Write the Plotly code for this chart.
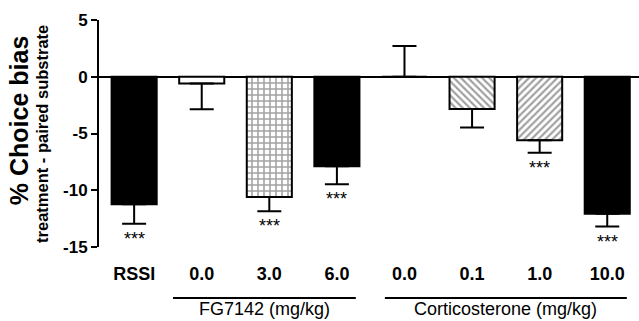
import plotly.graph_objects as go

# ---- data ----
categories = ["RSSI", "0.0", "3.0", "6.0", "0.0", "0.1", "1.0", "10.0"]
means = [-11.23, -0.59, -10.6, -7.88, 0.0, -2.85, -5.59, -12.06]
err_up = [0, 0, 0, 0, 2.7, 0, 0, 0]
err_down = [1.72, 2.27, 1.26, 1.59, 0, 1.62, 1.11, 1.14]
significance = ["***", "", "***", "***", "", "", "***", "***"]
group_names = ["FG7142 (mg/kg)", "Corticosterone (mg/kg)"]
group_first = [1, 4]
group_last = [3, 7]

# ---- style ----
fills = ["black", "white", "white", "black", "white", "white", "white", "black"]
patterns = ["", "", "+", "", "", "\\", "/", ""]
FONT = "Liberation Sans, Arial, sans-serif"

x = list(range(len(categories)))

fig = go.Figure()
fig.add_trace(go.Bar(
    x=x, y=means, width=0.667,
    marker=dict(color=fills, line=dict(color="black", width=2),
                pattern=dict(shape=patterns, fgcolor="black", bgcolor="white",
                             size=[6, 6, 6, 6, 6, 5, 5, 6], solidity=0.45)),
    error_y=dict(type="data", symmetric=False, array=err_up, arrayminus=err_down,
                 color="black", thickness=2, width=12),
    showlegend=False,
))

annotations = []
for i, s in enumerate(significance):
    if s:
        annotations.append(dict(x=i, y=means[i] - err_down[i], xref="x", yref="y",
                                text=s, showarrow=False, yanchor="top", yshift=-3,
                                font=dict(family=FONT, size=18, color="black")))

shapes = []
line_y = -0.2247
left_pad = [0.425, 0.29]
right_pad = [0.28, 0.29]
for g, name in enumerate(group_names):
    x0 = group_first[g] - left_pad[g]
    x1 = group_last[g] + right_pad[g]
    shapes.append(dict(type="line", xref="x", yref="paper", x0=x0, x1=x1,
                       y0=line_y, y1=line_y, line=dict(color="black", width=2)))
    annotations.append(dict(x=(x0 + x1) / 2, y=-0.275, xref="x", yref="paper",
                            text=name, showarrow=False, yanchor="middle",
                            font=dict(family=FONT, size=18, color="black")))

annotations.append(dict(x=-0.148, y=0.559, xref="paper", yref="paper",
                        text="<b>% Choice bias</b>", textangle=-90, showarrow=False,
                        xanchor="center", yanchor="middle",
                        font=dict(family=FONT, size=25, color="black")))
annotations.append(dict(x=-0.1056, y=0.498, xref="paper", yref="paper",
                        text="<b>treatment - paired substrate</b>", textangle=-90,
                        showarrow=False, xanchor="center", yanchor="middle",
                        font=dict(family=FONT, size=16.5, color="black")))

fig.update_layout(
    width=639, height=321,
    margin=dict(l=99, r=0, t=20, b=74),
    paper_bgcolor="white", plot_bgcolor="white",
    xaxis=dict(range=[-0.52, 7.47], tickvals=x, ticktext=["<b>%s</b>" % c for c in categories],
               showline=False, showgrid=False, zeroline=False, ticks="",
               ticklabelstandoff=14,
               tickfont=dict(family=FONT, size=18, color="black")),
    yaxis=dict(range=[-15, 5], tickvals=[-15, -10, -5, 0, 5],
               ticktext=["<b>-15</b>", "<b>-10</b>", "<b>-5</b>", "<b>0</b>", "<b>5</b>"],
               showline=True, linecolor="black", linewidth=2,
               ticks="outside", ticklen=6, tickwidth=2, tickcolor="black",
               showgrid=False, zeroline=True, zerolinecolor="black", zerolinewidth=2,
               tickfont=dict(family=FONT, size=17, color="black")),
    shapes=shapes,
    annotations=annotations,
    bargap=0.33,
)

fig.write_html("out.html", config={"displayModeBar": False},
               post_script="document.body.style.margin='0';")
